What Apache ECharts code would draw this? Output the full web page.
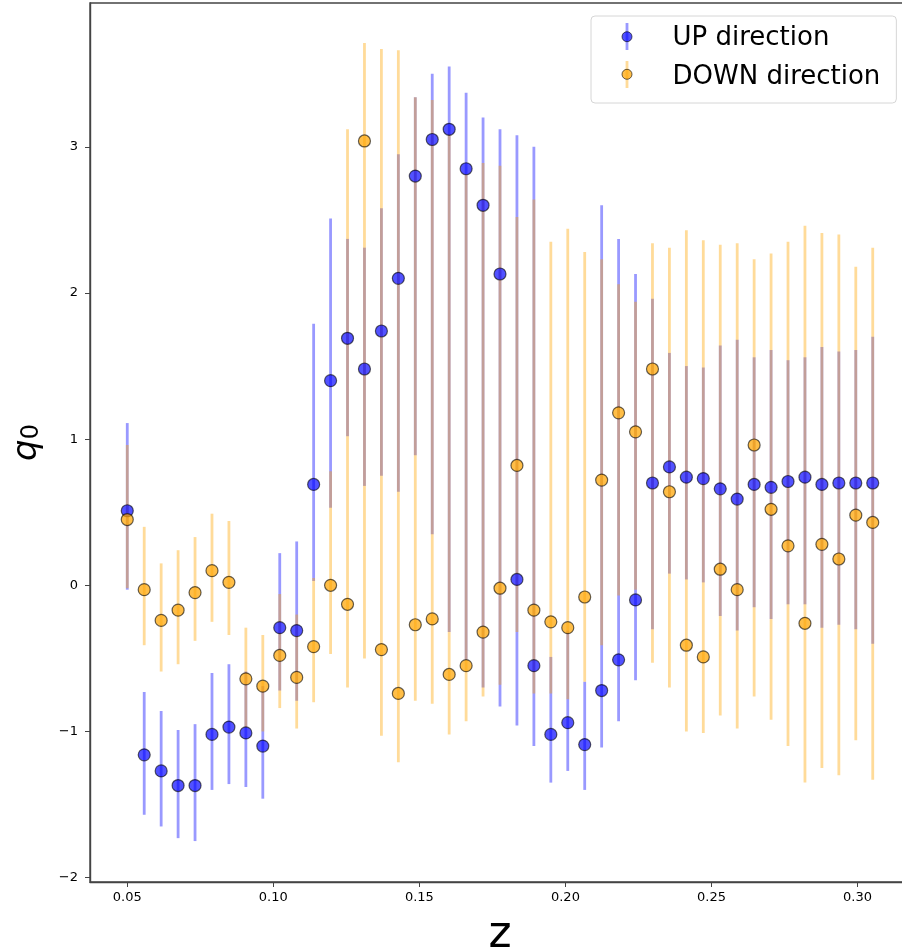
<!DOCTYPE html>
<html>
<head>
<meta charset="utf-8">
<script src="https://cdn.jsdelivr.net/npm/echarts@6/dist/echarts.min.js"></script>
<style>
  html, body { margin: 0; padding: 0; background: #fff; }
  #chart { width: 902px; height: 951px; }
</style>
</head>
<body>
<div id="chart"></div>
<script>
// Redshift bins
var zBins = [0.05, 0.0558, 0.0616, 0.0674, 0.0732, 0.079, 0.0848, 0.0906, 0.0964, 0.1022,
             0.108, 0.1138, 0.1196, 0.1254, 0.1312, 0.137, 0.1428, 0.1486, 0.1544, 0.1602,
             0.166, 0.1718, 0.1776, 0.1834, 0.1892, 0.195, 0.2008, 0.2066, 0.2124, 0.2182,
             0.224, 0.2298, 0.2356, 0.2414, 0.2472, 0.253, 0.2588, 0.2646, 0.2704, 0.2762,
             0.282, 0.2878, 0.2936, 0.2994, 0.3052];

// UP direction: best value, lower and upper ends of the interval
var upQ0 = [0.51, -1.16, -1.27, -1.37, -1.37, -1.02, -0.97, -1.01, -1.10, -0.29,
            -0.31, 0.69, 1.40, 1.69, 1.48, 1.74, 2.10, 2.80, 3.05, 3.12,
            2.85, 2.60, 2.13, 0.04, -0.55, -1.02, -0.94, -1.09, -0.72, -0.51,
            -0.10, 0.70, 0.81, 0.74, 0.73, 0.66, 0.59, 0.69, 0.67, 0.71,
            0.74, 0.69, 0.70, 0.70, 0.70];
var upLow = [-0.03, -1.57, -1.65, -1.73, -1.75, -1.40, -1.36, -1.38, -1.46, -0.72,
             -0.79, 0.03, 0.53, 1.02, 0.68, 0.75, 0.64, 0.89, 0.35, -0.32,
             -0.51, -0.70, -0.83, -0.96, -1.10, -1.35, -1.27, -1.40, -1.11, -0.93,
             -0.65, -0.30, 0.08, 0.04, 0.02, -0.21, -0.31, -0.15, -0.23, -0.13,
             -0.13, -0.29, -0.27, -0.30, -0.40];
var upHigh = [1.11, -0.73, -0.86, -0.99, -0.95, -0.60, -0.54, -0.59, -0.69, 0.22,
              0.30, 1.79, 2.51, 2.37, 2.31, 2.58, 2.95, 3.34, 3.50, 3.55,
              3.37, 3.20, 3.12, 3.08, 3.00, -0.49, -0.31, -0.66, 2.60, 2.37,
              2.13, 1.96, 1.59, 1.50, 1.49, 1.64, 1.68, 1.56, 1.61, 1.54,
              1.56, 1.63, 1.60, 1.61, 1.70];

// DOWN direction: best value, lower and upper ends of the interval
var downQ0 = [0.45, -0.03, -0.24, -0.17, -0.05, 0.10, 0.02, -0.64, -0.69, -0.48,
              -0.63, -0.42, 0.00, -0.13, 3.04, -0.44, -0.74, -0.27, -0.23, -0.61,
              -0.55, -0.32, -0.02, 0.82, -0.17, -0.25, -0.29, -0.08, 0.72, 1.18,
              1.05, 1.48, 0.64, -0.41, -0.49, 0.11, -0.03, 0.96, 0.52, 0.27,
              -0.26, 0.28, 0.18, 0.48, 0.43];
var downLow = [-0.02, -0.41, -0.59, -0.54, -0.38, -0.25, -0.34, -0.97, -1.00, -0.84,
               -0.98, -0.80, -0.47, -0.70, -0.50, -1.03, -1.21, -0.79, -0.81, -1.02,
               -0.93, -0.76, -0.68, -0.32, -0.74, -0.74, -0.78, -0.66, -0.41, -0.07,
               -0.03, -0.53, -0.70, -1.00, -1.01, -0.89, -0.98, -0.76, -0.92, -1.10,
               -1.35, -1.25, -1.30, -1.06, -1.33];
var downHigh = [0.96, 0.40, 0.15, 0.24, 0.33, 0.49, 0.44, -0.29, -0.34, -0.06,
                -0.20, 0.05, 0.78, 3.12, 3.71, 3.67, 3.66, 3.34, 3.32, 3.09,
                2.81, 2.89, 2.87, 2.52, 2.64, 2.35, 2.44, 2.28, 2.23, 2.06,
                1.94, 2.34, 2.31, 2.43, 2.36, 2.33, 2.34, 2.23, 2.27, 2.35,
                2.46, 2.41, 2.40, 2.18, 2.31];

var xTicks = [0.05, 0.10, 0.15, 0.20, 0.25, 0.30];
var yTicks = [-2, -1, 0, 1, 2, 3];
var seriesNames = ['UP direction', 'DOWN direction'];

var UP_BAR = 'rgba(0,0,255,0.4)';
var UP_FILL = 'rgba(0,0,255,0.68)';
var DOWN_BAR = 'rgba(255,165,0,0.4)';
var DOWN_FILL = 'rgba(255,165,0,0.72)';
var EDGE = 'rgba(0,0,0,0.6)';
var AXIS = '#444';
var FONT = 'DejaVu Sans';

function zip3(a, b, c) {
  return a.map(function (v, i) { return [v, b[i], c[i]]; });
}
function zip2(a, b) {
  return a.map(function (v, i) { return [v, b[i]]; });
}

// vertical interval line from low to high at each z
function barRenderer(color) {
  return function (params, api) {
    var p1 = api.coord([api.value(0), api.value(1)]);
    var p2 = api.coord([api.value(0), api.value(2)]);
    return {
      type: 'line',
      silent: true,
      shape: { x1: p1[0], y1: p1[1], x2: p2[0], y2: p2[1] },
      style: { stroke: color, lineWidth: 2.8, lineCap: 'butt' }
    };
  };
}

var chart = echarts.init(document.getElementById('chart'), null, { renderer: 'canvas' });

chart.setOption({
  animation: false,
  backgroundColor: '#fff',
  grid: {
    left: 90, top: 3, width: 820, height: 879,
    outerBoundsMode: 'none',
    containLabel: false,
    show: true, borderColor: AXIS, borderWidth: 1.4, backgroundColor: 'transparent'
  },
  legend: {
    data: seriesNames,
    orient: 'vertical',
    left: 591, top: 16,
    padding: [7, 16, 11, 31],
    itemGap: 9,
    itemWidth: 61, itemHeight: 28,
    itemStyle: { opacity: 0 },
    backgroundColor: 'rgba(255,255,255,0.8)',
    borderColor: '#d6d6d6', borderWidth: 1, borderRadius: 4,
    textStyle: { fontFamily: FONT, fontSize: 26, color: '#000', lineHeight: 28 },
    selectedMode: false
  },
  graphic: [
    { type: 'line', shape: { x1: 627, y1: 23, x2: 627, y2: 50 }, style: { stroke: UP_BAR, lineWidth: 2.8 }, z: 100 },
    { type: 'circle', shape: { cx: 627, cy: 36.7, r: 5 }, style: { fill: UP_FILL, stroke: EDGE, lineWidth: 1 }, z: 100 },
    { type: 'line', shape: { x1: 627, y1: 61, x2: 627, y2: 88 }, style: { stroke: DOWN_BAR, lineWidth: 2.8 }, z: 100 },
    { type: 'circle', shape: { cx: 627, cy: 74.3, r: 5 }, style: { fill: DOWN_FILL, stroke: EDGE, lineWidth: 1 }, z: 100 }
  ],
  xAxis: {
    type: 'value',
    min: 0.03724, max: 0.31796,
    name: 'z',
    nameLocation: 'middle',
    nameGap: 32,
    nameTextStyle: { fontFamily: FONT, fontSize: 44, color: '#000' },
    splitLine: { show: false },
    axisLine: { show: true, onZero: false, lineStyle: { color: AXIS, width: 1.4 } },
    axisTick: { show: true, length: 5, lineStyle: { color: AXIS, width: 1 }, customValues: xTicks },
    axisLabel: {
      fontFamily: FONT, fontSize: 13, color: '#000', margin: 9,
      customValues: xTicks,
      formatter: function (v) { return v.toFixed(2); }
    }
  },
  yAxis: {
    type: 'value',
    min: -2.03, max: 3.984,
    name: '{q|q}{s|0}',
    nameLocation: 'middle',
    nameRotate: 90,
    nameGap: 46,
    nameTextStyle: {
      rich: {
        q: { fontFamily: FONT, fontStyle: 'italic', fontSize: 34, lineHeight: 40, color: '#000', verticalAlign: 'bottom' },
        s: { fontFamily: FONT, fontSize: 24, lineHeight: 30, color: '#000', verticalAlign: 'bottom' }
      }
    },
    splitLine: { show: false },
    axisLine: { show: true, onZero: false, lineStyle: { color: AXIS, width: 1.4 } },
    axisTick: { show: true, length: 5, lineStyle: { color: AXIS, width: 1 }, customValues: yTicks },
    axisLabel: {
      fontFamily: FONT, fontSize: 13, color: '#000', margin: 12,
      customValues: yTicks,
      formatter: function (v) { return v < 0 ? '\u2212' + Math.abs(v) : String(v); }
    }
  },
  series: [
    {
      name: 'UP interval', type: 'custom', renderItem: barRenderer(UP_BAR),
      encode: { x: 0, y: [1, 2] }, data: zip3(zBins, upLow, upHigh), z: 2
    },
    {
      name: 'DOWN interval', type: 'custom', renderItem: barRenderer(DOWN_BAR),
      encode: { x: 0, y: [1, 2] }, data: zip3(zBins, downLow, downHigh), z: 2
    },
    {
      name: seriesNames[0], type: 'scatter', symbol: 'circle', symbolSize: 12,
      itemStyle: { color: UP_FILL, borderColor: EDGE, borderWidth: 1.2, opacity: 1 },
      data: zip2(zBins, upQ0), z: 3
    },
    {
      name: seriesNames[1], type: 'scatter', symbol: 'circle', symbolSize: 12,
      itemStyle: { color: DOWN_FILL, borderColor: EDGE, borderWidth: 1.2, opacity: 1 },
      data: zip2(zBins, downQ0), z: 3
    }
  ]
});
</script>
</body>
</html>
